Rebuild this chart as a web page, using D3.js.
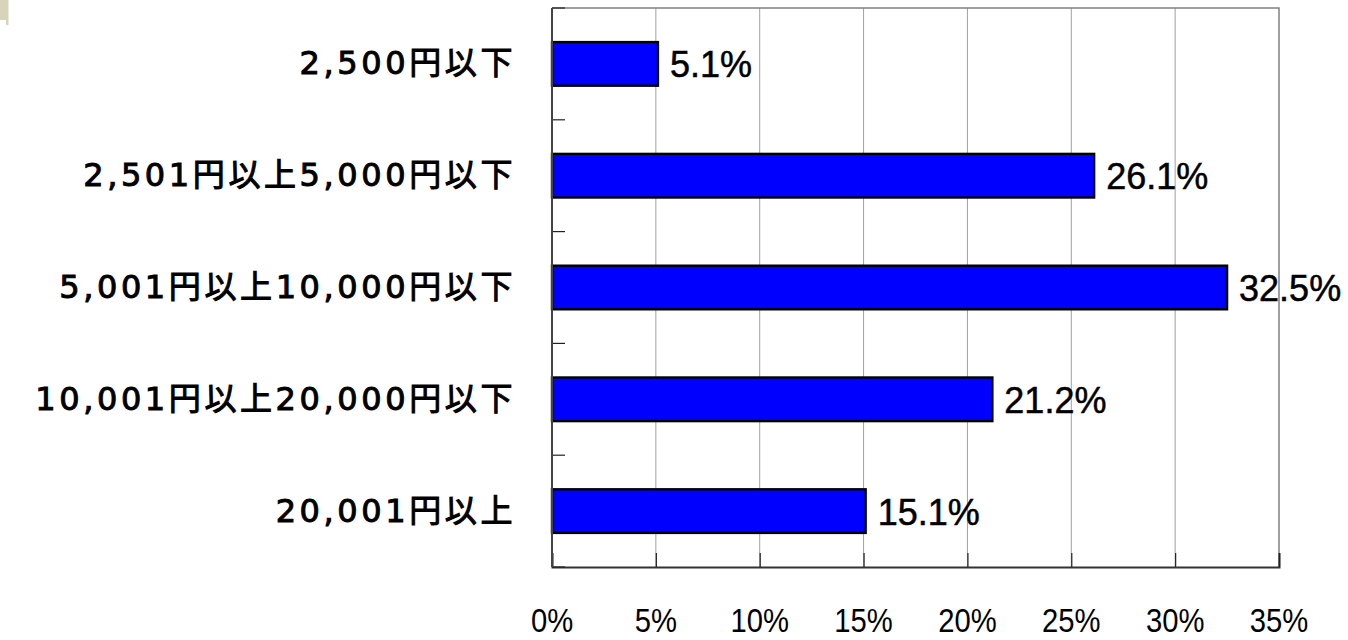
<!DOCTYPE html>
<html lang="ja">
<head>
<meta charset="utf-8">
<script src="https://cdn.jsdelivr.net/npm/d3@7"></script>
<style>
  html, body { margin: 0; padding: 0; background: #fff; }
  svg { display: block; }
</style>
</head>
<body>
<svg id="chart" width="1348" height="640"></svg>
<script>
// 価格帯別の構成比 (%)
const categories = [
  "2,500円以下",
  "2,501円以上5,000円以下",
  "5,001円以上10,000円以下",
  "10,001円以上20,000円以下",
  "20,001円以上"
];
const shares = [5.1, 26.1, 32.5, 21.2, 15.1];
const tickValues = [0, 5, 10, 15, 20, 25, 30, 35];
const tickLabels = ["0%", "5%", "10%", "15%", "20%", "25%", "30%", "35%"];

const svg = d3.select("#chart");
const plot = { left: 552, right: 1279, top: 8, bottom: 567 };

// small tab in the top-left corner
svg.append("path")
  .attr("d", "M0,0H8.5V25H6V20H0Z")
  .attr("fill", "#d7d4bb");

const x = d3.scaleLinear().domain([0, 35]).range([plot.left, plot.right]);
const y = d3.scaleBand().domain(categories)
  .range([plot.top, plot.bottom])
  .paddingInner(0.61).paddingOuter(0.305);
const step = y.step();

// vertical grid lines
svg.append("g").selectAll("line")
  .data(tickValues.slice(1, -1))
  .join("line")
  .attr("x1", d => x(d)).attr("x2", d => x(d))
  .attr("y1", plot.top).attr("y2", plot.bottom)
  .attr("stroke", "#a0a0a0").attr("stroke-width", 1);

// frame: top and right in grey
svg.append("path")
  .attr("d", `M${plot.left},${plot.top}H${plot.right}V${plot.bottom}`)
  .attr("fill", "none").attr("stroke", "#808080").attr("stroke-width", 1.5);

// bottom axis with inward ticks
const xAxis = d3.axisBottom(x).tickValues(tickValues).tickSize(-14).tickFormat("");
svg.append("g")
  .attr("transform", `translate(0,${plot.bottom})`)
  .call(xAxis)
  .call(g => g.select(".domain").attr("stroke", "#333").attr("stroke-width", 2))
  .call(g => g.selectAll(".tick line").attr("stroke", "#222").attr("stroke-width", 1.2));

// tick labels (slightly condensed)
svg.append("g").selectAll("text")
  .data(tickValues)
  .join("text")
  .attr("transform", d => `translate(${x(d)},632) scale(0.86,1)`)
  .attr("text-anchor", "middle")
  .attr("font-family", "'Liberation Sans', Arial, sans-serif")
  .attr("font-size", 34)
  .attr("fill", "#000")
  .text((d, i) => tickLabels[i]);

// left axis ticks on category boundaries
const boundaries = d3.range(categories.length + 1).map(i => plot.top + i * step);
svg.append("g").selectAll("line")
  .data(boundaries)
  .join("line")
  .attr("x1", plot.left).attr("x2", plot.left + 13)
  .attr("y1", d => d).attr("y2", d => d)
  .attr("stroke", "#222").attr("stroke-width", 1.2);

// bars
svg.append("g").selectAll("rect")
  .data(shares)
  .join("rect")
  .attr("x", x(0))
  .attr("y", (d, i) => y(categories[i]))
  .attr("width", d => x(d) - x(0))
  .attr("height", y.bandwidth())
  .attr("fill", "#0000ff")
  .attr("stroke", "#000")
  .attr("stroke-width", 2.4);

// left axis line
svg.append("line")
  .attr("x1", plot.left).attr("x2", plot.left)
  .attr("y1", plot.top).attr("y2", plot.bottom)
  .attr("stroke", "#444").attr("stroke-width", 2);

// value labels
svg.append("g").selectAll("text")
  .data(shares)
  .join("text")
  .attr("x", d => x(d) + 12)
  .attr("y", (d, i) => y(categories[i]) + y.bandwidth() / 2 + 13.5)
  .attr("font-family", "'Liberation Sans', Arial, sans-serif")
  .attr("font-size", 36)
  .attr("fill", "#000")
  .attr("stroke", "#000")
  .attr("stroke-width", 0.5)
  .text(d => d.toFixed(1) + "%");

// category labels
svg.append("g").selectAll("text")
  .data(categories)
  .join("text")
  .attr("x", plot.left - 36)
  .attr("y", d => y(d) + y.bandwidth() / 2 + 10.5)
  .attr("text-anchor", "end")
  .attr("font-family", "'DejaVu Sans', 'Noto Sans CJK JP', sans-serif")
  .attr("font-size", 32)
  .attr("letter-spacing", 3.6)
  .attr("fill", "#000")
  .attr("stroke", "#000")
  .attr("stroke-width", 1)
  .text(d => d);
</script>
</body>
</html>
